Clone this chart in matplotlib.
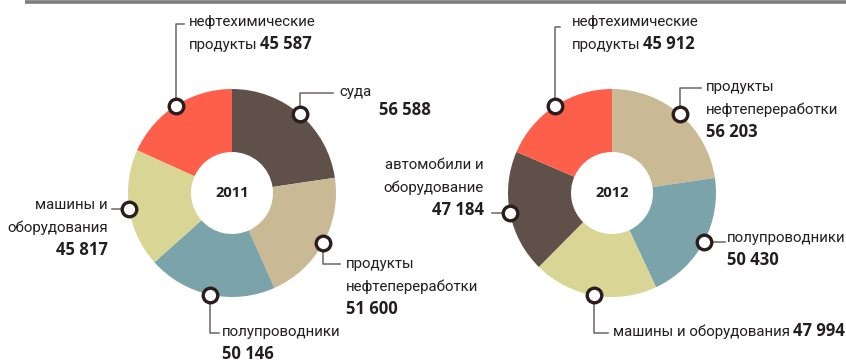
import numpy as np
import matplotlib
matplotlib.use('Agg')
import matplotlib.pyplot as plt

W, H = 846, 363

# 2011, clockwise from 12 o'clock
labels_2011 = ['суда', 'продукты\nнефтепереработки', 'полупроводники',
               'машины и\nоборудования', 'нефтехимические\nпродукты']
values_2011 = [56588, 51600, 50146, 45817, 45587]
colors_2011 = ['#5f5049', '#c9b995', '#7ba3aa', '#d9d595', '#fd5f4a']

# 2012, clockwise from 12 o'clock
labels_2012 = ['продукты\nнефтепереработки', 'полупроводники',
               'машины и оборудования', 'автомобили и\nоборудование',
               'нефтехимические\nпродукты']
values_2012 = [56203, 50430, 47994, 47184, 45912]
colors_2012 = ['#c9b995', '#7ba3aa', '#d9d595', '#5f5049', '#fd5f4a']

LABEL_FONT = ['Liberation Sans Narrow', 'Roboto', 'DejaVu Sans']
NUM_FONT = ['Open Sans', 'DejaVu Sans']
TXT = '#231f20'
LEAD = '#6e6464'
LINE_H = 23
NUM_SIZE = 12

R_OUT, R_IN = 104, 41


def fmt(v):
    return f'{v:,}'.replace(',', ' ')


def y(py):
    return H - py


fig = plt.figure(figsize=(W / 100, H / 100), dpi=100)
ax = fig.add_axes([0, 0, 1, 1])

# rule along the top
ax.plot([25, W], [y(1.5), y(1.5)], color='#7d7d7d', lw=2.6, solid_capstyle='butt')


def donut(cx, cy, values, colors, year):
    ax.pie(values, colors=colors, startangle=90, counterclock=False,
           radius=R_OUT, center=(cx, y(cy)),
           wedgeprops=dict(width=R_OUT - R_IN, linewidth=0), frame=True)
    ax.text(cx, y(cy), year, ha='center', va='center', fontsize=10.5,
            fontweight='bold', family=NUM_FONT, color=TXT)
    # marker points sit on the outer edge in the middle of each slice
    frac = np.cumsum([0] + list(values)) / sum(values)
    mids = 90 - 360 * (frac[:-1] + frac[1:]) / 2
    return [(cx + R_OUT * np.cos(np.radians(a)), cy - R_OUT * np.sin(np.radians(a)))
            for a in mids]


def marker(p):
    ax.plot(p[0], y(p[1]), 'o', ms=10.5, mfc='white', mec='#2b1d1d', mew=2.4, zorder=6)


def leader(pts):
    xs, ys = zip(*pts)
    ax.plot(xs, [y(v) for v in ys], color=LEAD, lw=1.1, zorder=5)


def label(x, py, text, ha='left', value=None, inline=False):
    """Lines of text starting at py (first line centre), value below or inline."""
    lines = text.split('\n')
    t = None
    for i, line in enumerate(lines):
        t = ax.text(x, y(py + i * LINE_H), line, ha=ha, va='center', fontsize=10.8,
                    family=LABEL_FONT, color=TXT)
    if value is None:
        return
    if inline:
        ax.annotate(fmt(value), xy=(1, 0.5), xycoords=t, xytext=(2, 0.5),
                    textcoords='offset points', va='center', fontsize=NUM_SIZE,
                    fontweight='bold', family=NUM_FONT, color=TXT)
    else:
        ax.text(x, y(py + len(lines) * LINE_H - 1), fmt(value), ha=ha, va='center',
                fontsize=NUM_SIZE, fontweight='bold', family=NUM_FONT, color=TXT)


# ---- 2011 ----
p = donut(232, 193, values_2011, colors_2011, '2011')
# суда
leader([p[0], (p[0][0], 93), (333, 93)])
label(339, 92, labels_2011[0])
ax.text(379, y(110), fmt(values_2011[0]), va='center', fontsize=NUM_SIZE,
        fontweight='bold', family=NUM_FONT, color=TXT)
# продукты нефтепереработки
leader([p[1], (p[1][0], 264), (340, 264)])
label(346, 264, labels_2011[1], value=values_2011[1])
# полупроводники
leader([p[2], (p[2][0], 333), (219, 333)])
label(222, 332, labels_2011[2], value=values_2011[2])
# машины и оборудования
leader([p[3], (112, p[3][1])])
label(108, 205, labels_2011[3], ha='right', value=values_2011[3])
# нефтехимические продукты
leader([p[4], (p[4][0], 24), (184, 24)])
label(189, 22, labels_2011[4], value=values_2011[4], inline=True)
for q in p:
    marker(q)

# ---- 2012 ----
p = donut(612, 193, values_2012, colors_2012, '2012')
# продукты нефтепереработки
leader([p[0], (p[0][0], 88), (701, 88)])
label(706, 87, labels_2012[0], value=values_2012[0])
# полупроводники
leader([p[1], (725, p[1][1])])
label(727, 238, labels_2012[1], value=values_2012[1])
# машины и оборудования
leader([p[2], (p[2][0], 333), (608, 333)])
label(613, 332, labels_2012[2], value=values_2012[2], inline=True)
# автомобили и оборудование
leader([p[3], (492, p[3][1])])
label(484, 165, labels_2012[3], ha='right', value=values_2012[3])
# нефтехимические продукты
leader([p[4], (p[4][0], 27), (560, 27)])
label(572, 22, labels_2012[4], value=values_2012[4], inline=True)
for q in p:
    marker(q)

ax.set_xlim(0, W)
ax.set_ylim(0, H)
ax.set_aspect('equal')
ax.axis('off')
fig.savefig('out.png', dpi=100, facecolor='white')
